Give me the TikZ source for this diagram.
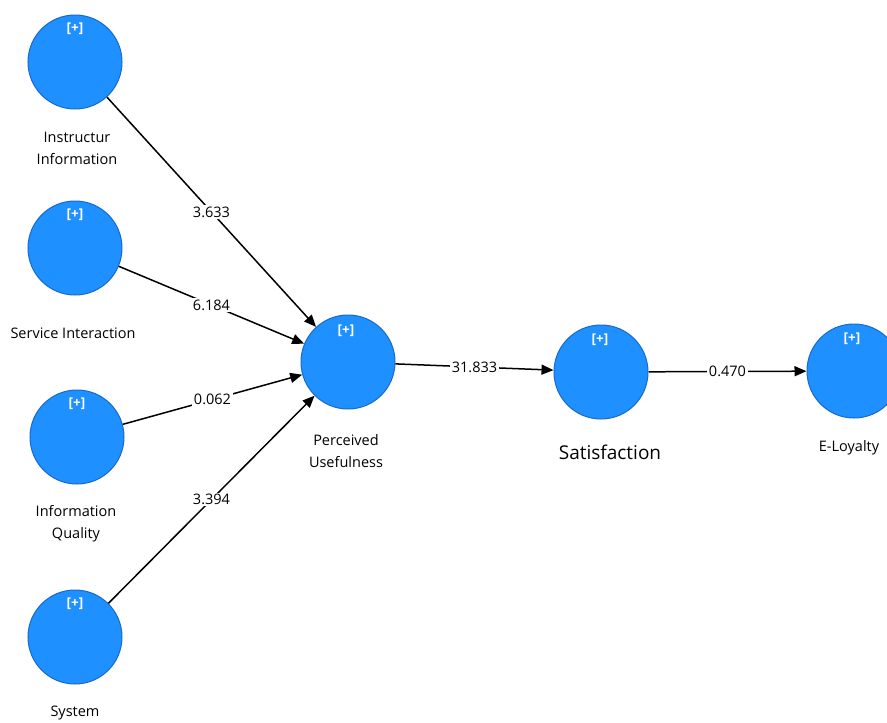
\documentclass[tikz,border=0pt]{standalone}
\usepackage{fontspec}
\setmainfont{Open Sans}
\usetikzlibrary{arrows.meta}
\definecolor{lvfill}{RGB}{30,144,255}
\definecolor{lvdraw}{RGB}{22,105,205}
\tikzset{
  lv/.style={circle, fill=lvfill, draw=lvdraw, line width=1pt, minimum size=94pt, inner sep=0pt},
  plus/.style={text=white, font=\fontsize{13.5}{14}\selectfont\bfseries},
  lvlabel/.style={align=center, font=\fontsize{14.5}{22}\selectfont, inner sep=0pt},
  path/.style={draw=black, line width=1.5pt, -{Triangle[length=12pt,width=10pt]}},
  coef/.style={midway, fill=white, inner sep=1.5pt, font=\fontsize{14.5}{16}\selectfont}
}
\begin{document}
\begin{tikzpicture}[x=1pt,y=-1pt]
\useasboundingbox (0,0) rectangle (887,723);
% latent variables
\node[lv] (ii) at (75,62) {};
\node[lv] (si) at (75,248) {};
\node[lv] (iq) at (77,437) {};
\node[lv] (sy) at (75,637) {};
\node[lv] (pu) at (348,362) {};
\node[lv] (sa) at (601,372) {};
\node[lv] (el) at (854,371) {};
% [+] markers
\node[plus] (iip) at (75,29) {[+]};
\node[plus] (sip) at (75,215) {[+]};
\node[plus] (iqp) at (77,404) {[+]};
\node[plus] (syp) at (75,604) {[+]};
\node[plus] (pup) at (346,331) {[+]};
\node[plus] (sap) at (600,340) {[+]};
\node[plus] (elp) at (852,339) {[+]};
% labels
\node[lvlabel] (iil) at (77,148) {Instructur\\Information};
\node[lvlabel] (sil) at (73,333) {Service Interaction};
\node[lvlabel] (iql) at (76,524) {Information\\Quality};
\node[lvlabel] (syl) at (75,713) {System};
\node[lvlabel] (pul) at (346,451) {Perceived\\Usefulness};
\node[lvlabel, font=\fontsize{19}{21}\selectfont] (sal) at (610,452) {Satisfaction};
\node[lvlabel] (ell) at (849,448) {E-Loyalty};
% paths
\draw[path] (ii) -- node[coef] {3.633} (pu);
\draw[path] (si) -- node[coef] {6.184} (pu);
\draw[path] (iq) -- node[coef] {0.062} (pu);
\draw[path] (sy) -- node[coef] {3.394} (pu);
\draw[path] (pu) -- node[coef] {31.833} (sa);
\draw[path] (sa) -- node[coef] {0.470} (el);
\end{tikzpicture}
\end{document}
